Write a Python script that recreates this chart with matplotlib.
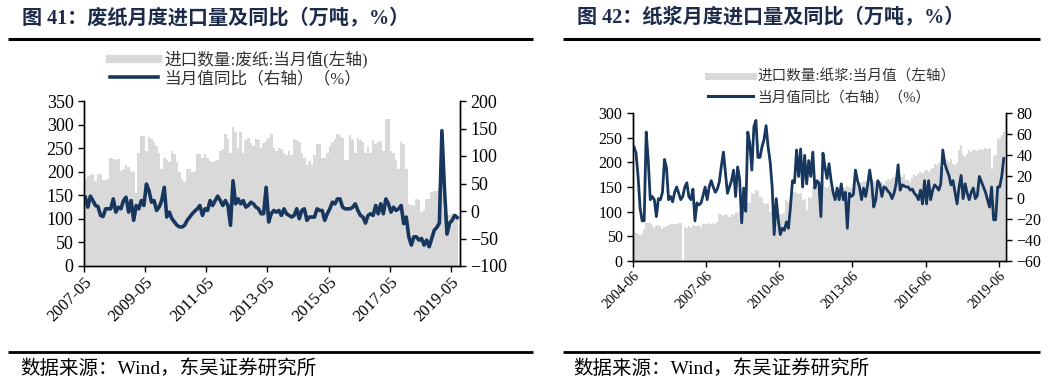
import matplotlib
matplotlib.use('Agg')
import matplotlib.pyplot as plt
from matplotlib.lines import Line2D
import numpy as np

# ---------------- data ----------------
waste_xticklabels = ['2007-05', '2009-05', '2011-05', '2013-05', '2015-05', '2017-05', '2019-05']
waste_volume = [
    185, 190, 193, 195, 180, 195, 195, 182, 182, 185,
    230, 228, 225, 228, 202, 205, 215, 210, 202, 200,
    155, 240, 275, 275, 245, 273, 270, 262, 255, 240,
    206, 230, 225, 220, 245, 238, 220, 200, 185, 178,
    205, 205, 200, 202, 238, 238, 230, 238, 230, 222,
    220, 222, 225, 245, 248, 280, 270, 240, 294, 285,
    250, 285, 240, 268, 272, 260, 255, 270, 268, 250,
    260, 265, 272, 280, 250, 245, 250, 248, 240, 235,
    245, 235, 270, 268, 262, 240, 230, 215, 222, 215,
    235, 258, 258, 230, 230, 240, 255, 262, 270, 280,
    278, 272, 225, 225, 278, 270, 240, 272, 268, 262,
    240, 255, 240, 268, 258, 262, 265, 245, 312, 312,
    245, 240, 225, 205, 262, 258, 205, 132, 130, 128,
    143, 140, 115, 118, 143, 143, 158, 160, 160, 165,
    150, 115, 112, 108, 112, 108, 110]
waste_yoy = [
    25, 7, 27, 19, 10, 8, -8, -10, 4, 4,
    4, 22, -2, 7, 4, 19, 25, -2, 19, -17,
    10, 4, 19, 10, 49, 37, 16, 19, 1, 7,
    19, 43, -11, -2, -14, -20, -26, -29, -29, -26,
    -17, -11, -5, 0, 4, 10, -8, 4, 1, 19,
    10, 19, 27, 19, 10, 19, 10, -26, 55, 13,
    22, 13, 19, 7, 10, 16, 13, 7, 4, -5,
    -5, 43, -20, -5, 1, -2, 1, -8, 4, -5,
    -8, -11, -8, 4, -14, 1, 4, -17, -11, -11,
    -11, 4, 1, 1, -17, -5, 4, 16, 13, 22,
    22, 7, 4, 4, 4, 7, 13, 1, -8, -11,
    -22, -8, -5, -8, 10, -5, 13, -5, 22, 13,
    -2, 7, 1, 4, 10, -23, -11, -47, -62, -47,
    -47, -53, -50, -62, -53, -65, -50, -35, -30, -22,
    146, 40, -42, -22, -17, -8, -12]

pulp_xticklabels = ['2004-06', '2007-06', '2010-06', '2013-06', '2016-06', '2019-06']
pulp_volume = [
    57, 56, 54, 52, 55, 64, 77, 77, 78, 72,
    67, 70, 72, 70, 65, 68, 70, 72, 74, 74,
    76, 75, 78, 78, 0, 68, 67, 70, 66, 72,
    70, 70, 72, 68, 76, 74, 76, 77, 75, 78,
    76, 80, 95, 96, 92, 96, 93, 90, 95, 93,
    100, 98, 102, 98, 105, 100, 117, 118, 137, 135,
    144, 142, 130, 128, 117, 115, 118, 100, 102, 100,
    90, 88, 96, 95, 97, 123, 120, 125, 144, 140,
    137, 135, 138, 123, 125, 103, 130, 128, 150, 148,
    152, 157, 155, 158, 150, 148, 152, 145, 144, 140,
    146, 144, 142, 150, 148, 152, 150, 148, 154, 152,
    156, 158, 160, 162, 160, 164, 166, 164, 162, 160,
    158, 162, 160, 156, 162, 167, 165, 168, 170, 168,
    172, 174, 170, 176, 165, 164, 160, 168, 174, 172,
    176, 181, 178, 182, 184, 180, 186, 188, 197, 195,
    198, 191, 188, 192, 204, 200, 206, 197, 195, 198,
    224, 235, 214, 210, 216, 224, 220, 226, 224, 222,
    225, 228, 226, 230, 228, 230, 187, 212, 214, 248,
    250, 255, 262]
pulp_yoy = [
    48, 42, 20, -10, -22, -22, 62, 35, -2, 1,
    -2, -18, -1, -2, 5, 36, 28, -2, 1, -4,
    5, 10, 4, -2, 1, 10, 14, 1, -2, 8,
    -22, -5, -7, -5, 2, 10, -2, 10, 16, 10,
    5, 8, 15, 30, 43, 23, 4, 10, 16, 26,
    1, 29, 17, -24, 9, -13, 62, 51, 26, 67,
    73, 38, 38, 48, 55, 68, 48, 34, 10, -35,
    -1, -21, -35, -29, -31, -23, -29, -9, 16, 14,
    45, 20, 46, 10, 40, 13, 35, 20, 43, 9,
    16, 14, -18, 42, 29, 18, 32, 16, 5, -2,
    9, -2, 13, -2, 5, -29, 4, 1, 3, 26,
    16, 10, -2, 9, 1, 12, 26, 13, -9, -2,
    16, 12, 1, 10, 9, 6, 4, -1, 4, 13,
    31, 7, 12, 11, 10, 10, 7, 8, 4, 2,
    -2, 7, -6, 16, -6, 16, -2, 7, 12, 10,
    7, 13, 45, 32, 26, 21, 12, 16, 5, -6,
    10, 21, -1, 13, 4, -2, 5, 9, -1, 2,
    20, 15, 10, 5, -2, -9, 10, -21, -21, 10,
    10, 20, 37]

# ---------------- style ----------------
W, H = 1059, 387
BAR = '#d9d9d9'
LINE = '#17375e'
TITLE_C = '#1c2b4a'
CJK = ['Liberation Serif', 'Noto Sans CJK SC']
NUM = ['Liberation Serif', 'DejaVu Serif']


def fx(x):
    return x / W


def fy(y):
    return 1 - y / H


fig = plt.figure(figsize=(W / 100, H / 100), dpi=100)


def hline(x0, x1, y, lw):
    fig.add_artist(Line2D([fx(x0), fx(x1)], [fy(y), fy(y)], transform=fig.transFigure,
                          color='black', lw=lw, solid_capstyle='butt'))


def panel(rect, volume, yoy, step, ticklabels, ylim_l, yticks_l, ylim_r, yticks_r,
          lab_fs, xlab_fs, lw):
    x0, y0, x1, y1 = rect
    ax = fig.add_axes([fx(x0), fy(y1), fx(x1) - fx(x0), fy(y0) - fy(y1)])
    axr = ax.twinx()
    n = len(volume)
    x = np.arange(n)
    ax.bar(x, volume, width=1.0, align='edge', color=BAR, linewidth=0)
    axr.plot(x + 0.5, yoy, color=LINE, lw=lw, solid_joinstyle='round')
    ax.set_xlim(0, n + 0.6)
    ax.set_ylim(*ylim_l)
    ax.set_yticks(yticks_l)
    axr.set_ylim(*ylim_r)
    axr.set_yticks(yticks_r)
    ax.set_xticks(np.arange(0, n, step)[:len(ticklabels)])
    ax.set_xticklabels(ticklabels, rotation=45, ha='right', rotation_mode='anchor',
                       family=NUM, fontsize=xlab_fs)
    for a in (ax, axr):
        a.spines['top'].set_visible(False)
        for s in a.spines.values():
            s.set_linewidth(1.0)
            s.set_color('black')
        a.tick_params(direction='out', length=4, width=1, colors='black')
    for lab in ax.get_yticklabels() + axr.get_yticklabels():
        lab.set_family(NUM)
        lab.set_fontsize(lab_fs)
    ax.tick_params(axis='x', pad=2)
    return ax, axr


# ---------------- left panel ----------------
fig.text(fx(22), fy(18), '图 41：废纸月度进口量及同比（万吨，%）', family=CJK, fontsize=14.5,
         fontweight='bold', color=TITLE_C, va='center', ha='left')
hline(8, 533, 39, 2.2)
hline(8, 533, 352, 2.0)
fig.text(fx(20), fy(369), '数据来源：Wind，东吴证券研究所', family=CJK, fontsize=14,
         color='black', va='center', ha='left')

axL, axLr = panel((84, 101, 460, 266), waste_volume, waste_yoy, 24, waste_xticklabels,
                  (0, 350), range(0, 351, 50), (-100, 200), range(-100, 201, 50),
                  13, 12, 2.6)

fig.legend(handles=[Line2D([], [], color=BAR, lw=6), Line2D([], [], color=LINE, lw=2.6)],
           labels=['进口数量:废纸:当月值(左轴)', '当月值同比（右轴）（%）'],
           loc='upper left', bbox_to_anchor=(fx(110), fy(51)), frameon=False,
           prop={'family': CJK, 'size': 12}, handlelength=2.9, handletextpad=0.35,
           labelspacing=0.15, borderpad=0, borderaxespad=0, labelcolor='#333333')

# ---------------- right panel ----------------
fig.text(fx(577), fy(18), '图 42：纸浆月度进口量及同比（万吨，%）', family=CJK, fontsize=14.5,
         fontweight='bold', color=TITLE_C, va='center', ha='left')
hline(563, 1040, 39, 2.2)
hline(563, 1040, 352, 2.0)
fig.text(fx(573), fy(369), '数据来源：Wind，东吴证券研究所', family=CJK, fontsize=14,
         color='black', va='center', ha='left')

axR, axRr = panel((633, 113, 1006, 261), pulp_volume, pulp_yoy, 36, pulp_xticklabels,
                  (0, 300), range(0, 301, 50), (-60, 80), range(-60, 81, 20),
                  11.5, 10, 2.0)

fig.legend(handles=[Line2D([], [], color=BAR, lw=5), Line2D([], [], color=LINE, lw=2.2)],
           labels=['进口数量:纸浆:当月值（左轴）', '当月值同比（右轴）（%）'],
           loc='upper left', bbox_to_anchor=(fx(708), fy(70)), frameon=False,
           prop={'family': CJK, 'size': 10.5}, handlelength=3.1, handletextpad=0.3,
           labelspacing=0.45, borderpad=0, borderaxespad=0, labelcolor='#333333')

fig.savefig('out.png', dpi=100)
